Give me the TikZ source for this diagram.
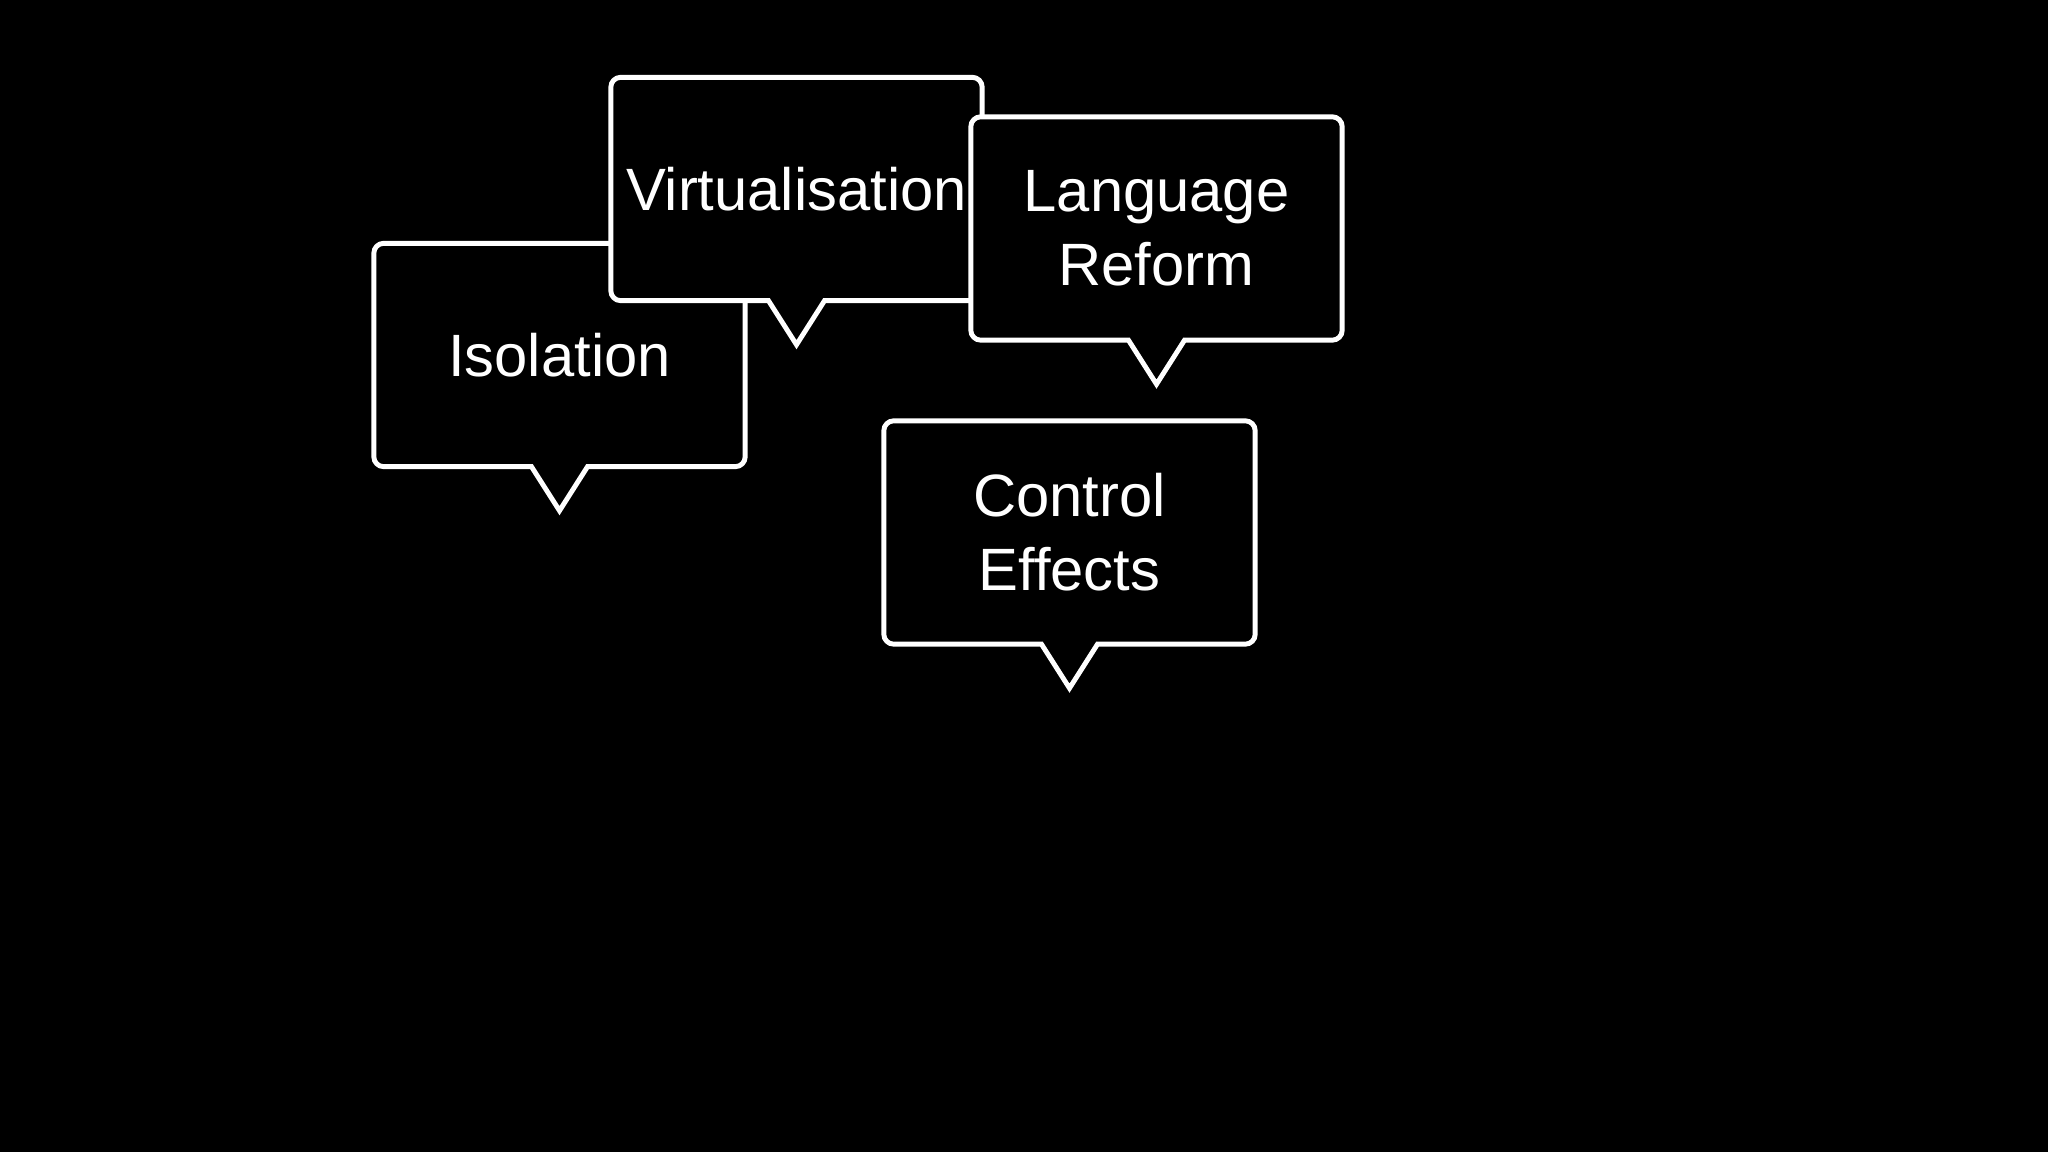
\documentclass[tikz,border=0pt]{standalone}
\usepackage{fontspec}
\setmainfont{Liberation Sans}
\usetikzlibrary{calc}

% outline of a speech bubble round a named node: rounded box, sharp pointer
\newcommand{\bubbleline}[1]{%
  \draw[outline] ($(#1.south)+(0.28,0)$) -- ($(#1.south east)+(-0.1,0)$) arc[start angle=-90, end angle=0, radius=0.1]
    -- ($(#1.north east)+(0,-0.1)$) arc[start angle=0, end angle=90, radius=0.1]
    -- ($(#1.north west)+(0.1,0)$) arc[start angle=90, end angle=180, radius=0.1]
    -- ($(#1.south west)+(0,0.1)$) arc[start angle=180, end angle=270, radius=0.1]
    -- ($(#1.south)+(-0.28,0)$) -- ($(#1.south)+(0,-0.44)$) -- cycle;}

\begin{document}
\begin{tikzpicture}[
    bubble/.style={fill=black, text=white, minimum width=3.70cm, minimum height=2.22cm, inner sep=0pt, align=center, font=\fontsize{17}{21}\selectfont},
    outline/.style={draw=white, line width=1.4pt, line join=miter}
]
% background and page size
\fill[black] (0,0) rectangle (20.48,-11.52);

\node[bubble] (iso) at (5.595,-3.55) {Isolation};
\bubbleline{iso}

\node[bubble] (virt) at (7.965,-1.89) {Virtualisation};
\bubbleline{virt}

\node[bubble] (lang) at (11.565,-2.285) {Language\\Reform};
\bubbleline{lang}

\node[bubble] (ctrl) at (10.695,-5.325) {Control\\Effects};
\bubbleline{ctrl}
\end{tikzpicture}
\end{document}
